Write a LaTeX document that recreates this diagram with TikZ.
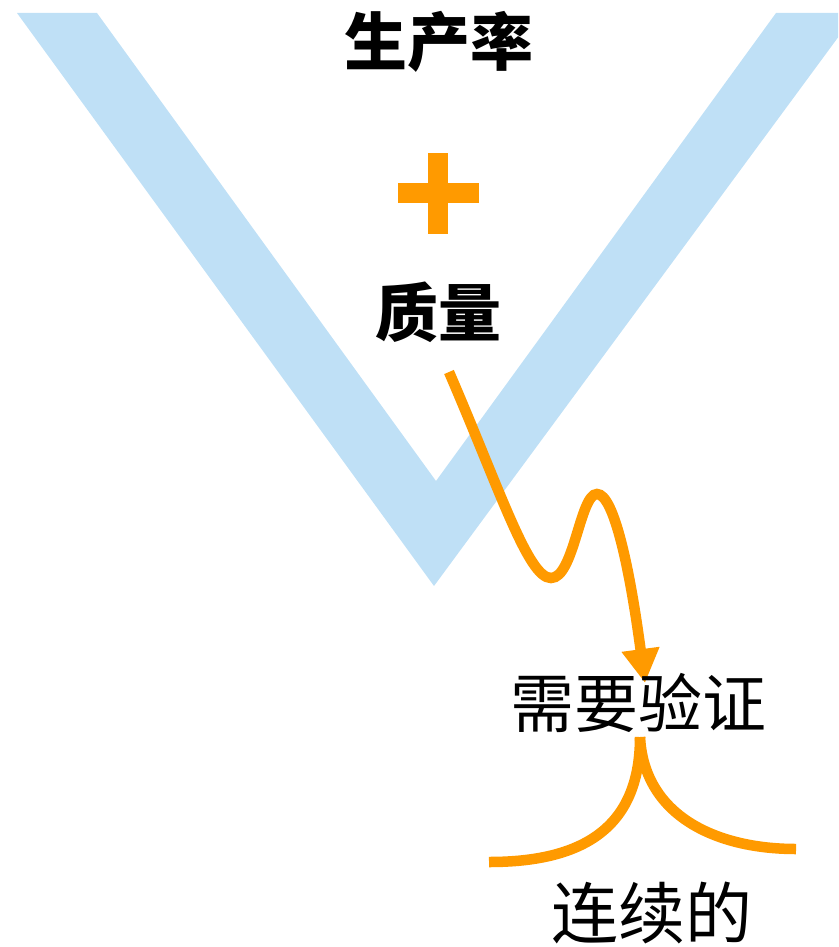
\documentclass[tikz,border=0pt]{standalone}
\usepackage{fontspec}
\newfontfamily\cjk{Noto Sans CJK SC}
\usetikzlibrary{arrows.meta}
\definecolor{vblue}{HTML}{BFE0F6}
\definecolor{vorange}{HTML}{FF9A00}
\tikzset{
  bigtxt/.style={inner sep=0pt, font=\cjk\fontsize{64}{64}\selectfont},
  conttxt/.style={inner sep=0pt, font=\cjk\fontsize{67}{67}\selectfont},
  boldtxt/.style={inner sep=0pt, font=\cjk\bfseries\fontsize{63}{63}\selectfont},
  oline/.style={draw=vorange, line width=10.5pt},
}
\begin{document}
\begin{tikzpicture}[x=1pt,y=-1pt]
\useasboundingbox (0,0) rectangle (838,947);
\begin{scope}
\clip (0,0) rectangle (838,947);
\fill[vblue] (17,13) -- (97,13) -- (436,481) -- (776,13) -- (856,13) -- (434,586) -- cycle;
\end{scope}
% plus sign
\fill[vorange] (398,183) rectangle (479,203);
\fill[vorange] (428,153) rectangle (448,234);
% texts
\node[boldtxt] (prod) at (439,42) {生产率};
\node[boldtxt] (qual) at (438,312) {质量};
\coordinate (s) at (449,372);
\coordinate (t) at (645,683);
\draw[oline, -{Triangle[width=36pt,length=34pt]}] (s) .. controls (500,490) and (528,578) .. (551,578)
  .. controls (574,578) and (580,494) .. (597,494)
  .. controls (614,494) and (630,570) .. (t);
\node[bigtxt] (verify) at (638,703) {需要验证};
\coordinate (top) at (640,737);
\coordinate (l) at (489,862);
\coordinate (r) at (796,849);
\draw[oline] (top) .. controls (640,830) and (580,862) .. (l);
\draw[oline] (top) .. controls (644,815) and (715,849) .. (r);
\node[conttxt] (cont) at (652,913) {连续的};
\end{tikzpicture}
\end{document}
